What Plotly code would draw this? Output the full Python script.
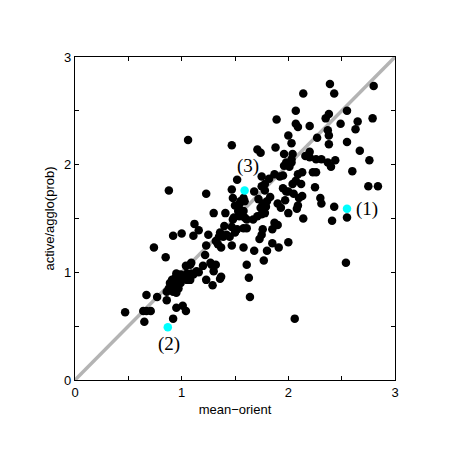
import plotly.graph_objects as go

# black points (mean-orient, active/agglo(prob))
x_pts = [
    0.47, 0.64, 0.67, 0.71, 0.65, 0.67, 0.77, 0.86, 0.74, 0.85, 0.92, 0.95, 1.01, 1.04, 0.88, 0.92,
    0.86, 0.88, 0.89, 0.91, 0.92, 0.92, 0.94, 0.95, 0.95, 0.97, 0.97, 0.99, 0.99, 1.00, 1.02, 1.05,
    1.05, 1.08, 1.09, 1.04, 1.08, 1.11, 1.14, 1.16,
    1.00, 1.12, 1.16, 1.11, 1.09, 1.20, 1.22, 1.23, 1.25, 1.27, 1.28, 1.32, 1.30, 1.37, 1.36, 1.23,
    1.29, 1.32, 1.34, 1.37, 1.47, 1.30, 1.41, 1.49, 1.40, 1.47, 1.36, 1.35, 1.39, 1.42, 1.45, 1.50,
    1.48, 1.06, 1.23, 1.47, 1.47, 1.52, 1.50, 1.48,
    1.64, 1.63, 1.61, 1.77, 1.58, 1.68, 1.80, 1.91, 1.85, 1.73, 1.75, 1.76, 1.87, 1.90, 1.85, 1.61,
    1.58, 1.52, 2.00, 2.06, 2.54,
    1.54, 1.53, 1.59, 1.54, 1.61, 1.58, 1.55, 1.58, 1.67, 1.71, 1.59, 1.68, 1.75, 1.78, 1.75, 1.78,
    1.82, 1.87, 1.92, 1.95, 1.78, 1.75, 1.72, 1.76, 1.80, 1.74, 1.79, 1.83, 1.90, 1.93, 1.97, 1.98,
    2.00, 2.08, 2.14, 2.09, 2.10, 2.13, 2.04, 2.07, 2.12, 2.25, 2.30, 2.31, 2.43, 2.41, 2.55, 2.75,
    2.84, 2.00, 2.05, 1.95,
    1.71, 1.74, 1.88, 1.96, 2.01, 1.98, 2.03, 2.00, 2.03, 1.96, 2.04, 2.03, 2.09, 2.13, 2.23, 2.26,
    2.20, 2.20, 2.16, 2.26, 2.31, 2.37, 2.44, 2.40, 2.60, 2.67, 2.76, 2.55, 2.38, 2.27, 2.37, 2.38,
    2.20, 2.07, 2.09, 1.89, 2.07, 2.14, 2.39, 2.43, 2.55, 2.38, 2.35, 2.49, 2.65, 2.63, 2.79, 2.80,
]
y_pts = [
    0.63, 0.64, 0.64, 0.64, 0.54, 0.79, 0.77, 0.74, 1.23, 1.14, 0.57, 0.67, 0.69, 0.64, 1.76, 1.34,
    0.82, 0.85, 0.90, 0.93, 0.82, 0.89, 0.95, 0.99, 0.81, 0.85, 0.92, 0.90, 0.98, 0.96, 0.95, 0.93,
    0.99, 0.93, 0.99, 1.06, 1.07, 0.98, 1.01, 1.00,
    1.36, 1.45, 1.39, 1.34, 1.09, 1.06, 1.16, 1.25, 1.35, 1.09, 1.07, 1.07, 1.01, 0.96, 0.94, 0.93,
    0.88, 1.29, 1.26, 1.23, 1.25, 1.55, 1.55, 1.51, 1.43, 1.42, 1.37, 1.33, 1.33, 1.35, 1.33, 1.37,
    1.49, 2.23, 1.73, 2.18, 1.77, 1.86, 1.62, 1.69,
    0.77, 0.95, 1.07, 1.11, 1.23, 1.20, 1.20, 1.23, 1.27, 1.31, 1.35, 1.40, 1.46, 1.44, 1.40, 1.41,
    1.41, 1.40, 1.28, 0.57, 1.09,
    1.63, 1.57, 1.66, 1.52, 1.49, 1.69, 1.66, 1.57, 1.49, 1.52, 1.51, 1.75, 1.80, 1.76, 1.89, 1.82,
    1.87, 1.91, 1.89, 1.90, 1.55, 1.54, 1.68, 1.64, 1.66, 1.60, 1.61, 1.70, 1.64, 1.60, 1.67, 1.75,
    1.55, 1.59, 1.50, 1.62, 1.69, 1.71, 1.82, 1.85, 1.82, 1.79, 1.69, 1.64, 1.61, 1.48, 1.51, 1.80,
    1.80, 1.75, 1.73, 1.78,
    2.14, 2.11, 2.16, 1.99, 1.98, 2.02, 2.02, 2.27, 2.20, 2.10, 2.10, 2.05, 1.91, 1.93, 1.93, 1.93,
    2.12, 2.07, 2.08, 2.05, 2.05, 2.02, 2.04, 1.98, 1.94, 2.13, 2.04, 2.21, 2.19, 2.25, 2.32, 2.27,
    2.36, 2.38, 2.35, 2.42, 2.50, 2.66, 2.75, 2.66, 2.50, 2.47, 2.43, 2.38, 2.40, 2.33, 2.43, 2.73,
]

# highlighted (cyan) points and their labels
hl_x = [2.55, 0.87, 1.59]
hl_y = [1.59, 0.49, 1.76]
hl_labels = ["(1)", "(2)", "(3)"]

diag = [0, 3]
tick_vals = [0, 0.5, 1, 1.5, 2, 2.5, 3]
tick_text = ["0", "", "1", "", "2", "", "3"]

fig = go.Figure()
fig.add_trace(go.Scatter(x=diag, y=diag, mode="lines",
                         line=dict(color="#b4b4b4", width=3.5), hoverinfo="skip"))
fig.add_trace(go.Scatter(x=x_pts, y=y_pts, mode="markers",
                         marker=dict(color="black", size=8.5, line=dict(width=0))))
fig.add_trace(go.Scatter(x=hl_x, y=hl_y, mode="markers",
                         marker=dict(color="#00ffff", size=8.5, line=dict(width=0))))

offsets = [(7, 0, "left"), (1, -17, "center"), (3, 25, "center")]
for xv, yv, lab, (dx, dy, anc) in zip(hl_x, hl_y, hl_labels, offsets):
    fig.add_annotation(x=xv, y=yv, text=lab, showarrow=False,
                       xshift=dx, yshift=dy, xanchor=anc,
                       font=dict(family="Liberation Serif", size=19, color="black"))

axis_common = dict(
    range=[0, 3], tickvals=tick_vals, ticktext=tick_text,
    ticks="inside", ticklen=4, tickwidth=1, tickcolor="black",
    showline=True, linecolor="black", linewidth=1.2, mirror="ticks",
    showgrid=False, zeroline=False,
    tickfont=dict(family="Liberation Sans", size=13, color="black"),
)
fig.update_xaxes(**axis_common, title=dict(text="mean\u2212orient", standoff=6,
                 font=dict(family="Liberation Sans", size=13, color="black")))
fig.update_yaxes(**axis_common, title=dict(text="active/agglo(prob)", standoff=6,
                 font=dict(family="Liberation Sans", size=13, color="black")))

# the page body adds an 8px margin, so the figure is drawn 8px smaller
fig.update_layout(
    width=445, height=445,
    margin=dict(l=67, r=58, t=49, b=73),
    paper_bgcolor="white", plot_bgcolor="white",
    showlegend=False,
)
fig.write_html("out.html")
